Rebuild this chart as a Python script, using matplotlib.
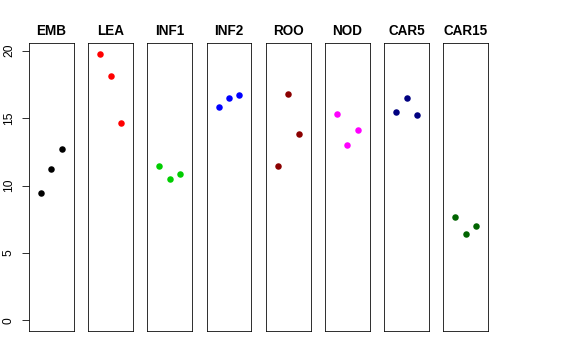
import matplotlib
matplotlib.use('Agg')
import matplotlib.pyplot as plt

plt.rcParams['font.family'] = ['Liberation Sans', 'DejaVu Sans']

# tissue groups, values
groups = ['EMB', 'LEA', 'INF1', 'INF2', 'ROO', 'NOD', 'CAR5', 'CAR15']
values = [
    [9.42, 11.2, 12.69],
    [19.78, 18.13, 14.62],
    [11.48, 10.49, 10.86],
    [15.85, 16.47, 16.74],
    [11.48, 16.79, 13.8],
    [15.33, 12.98, 14.15],
    [15.46, 16.52, 15.26],
    [7.67, 6.43, 6.97],
]
colors = ['black', 'red', '#00CD00', 'blue', '#8B0000', 'magenta', '#000080', '#006400']
reps = [1, 2, 3]
yticks = [0, 5, 10, 15, 20]

W, H = 576, 360
fig = plt.figure(figsize=(W / 72, H / 72), dpi=72)

left0, step, width = 29, 59.2, 44.8
top, bottom = 43.3, 331
for i, (g, vals, c) in enumerate(zip(groups, values, colors)):
    x0 = left0 + i * step
    ax = fig.add_axes([x0 / W, 1 - bottom / H, width / W, (bottom - top) / H])
    ax.plot(reps, vals, 'o', color=c, ms=6.5, mec='none')
    ax.set_xlim(-0.16, 4.16)
    ax.set_ylim(-0.79, 20.55)
    ax.set_xticks([])
    for s in ax.spines.values():
        s.set_linewidth(0.8)
    ax.set_title(g, fontsize=13.5, fontweight='bold', pad=8.5)
    if i == 0:
        ax.set_yticks(yticks)
        ax.set_yticklabels([str(t) for t in yticks], rotation=90, va='center', fontsize=12)
        ax.tick_params(axis='y', length=7, width=0.8, pad=7)
    else:
        ax.set_yticks([])

plt.savefig('out.png', dpi=72)
